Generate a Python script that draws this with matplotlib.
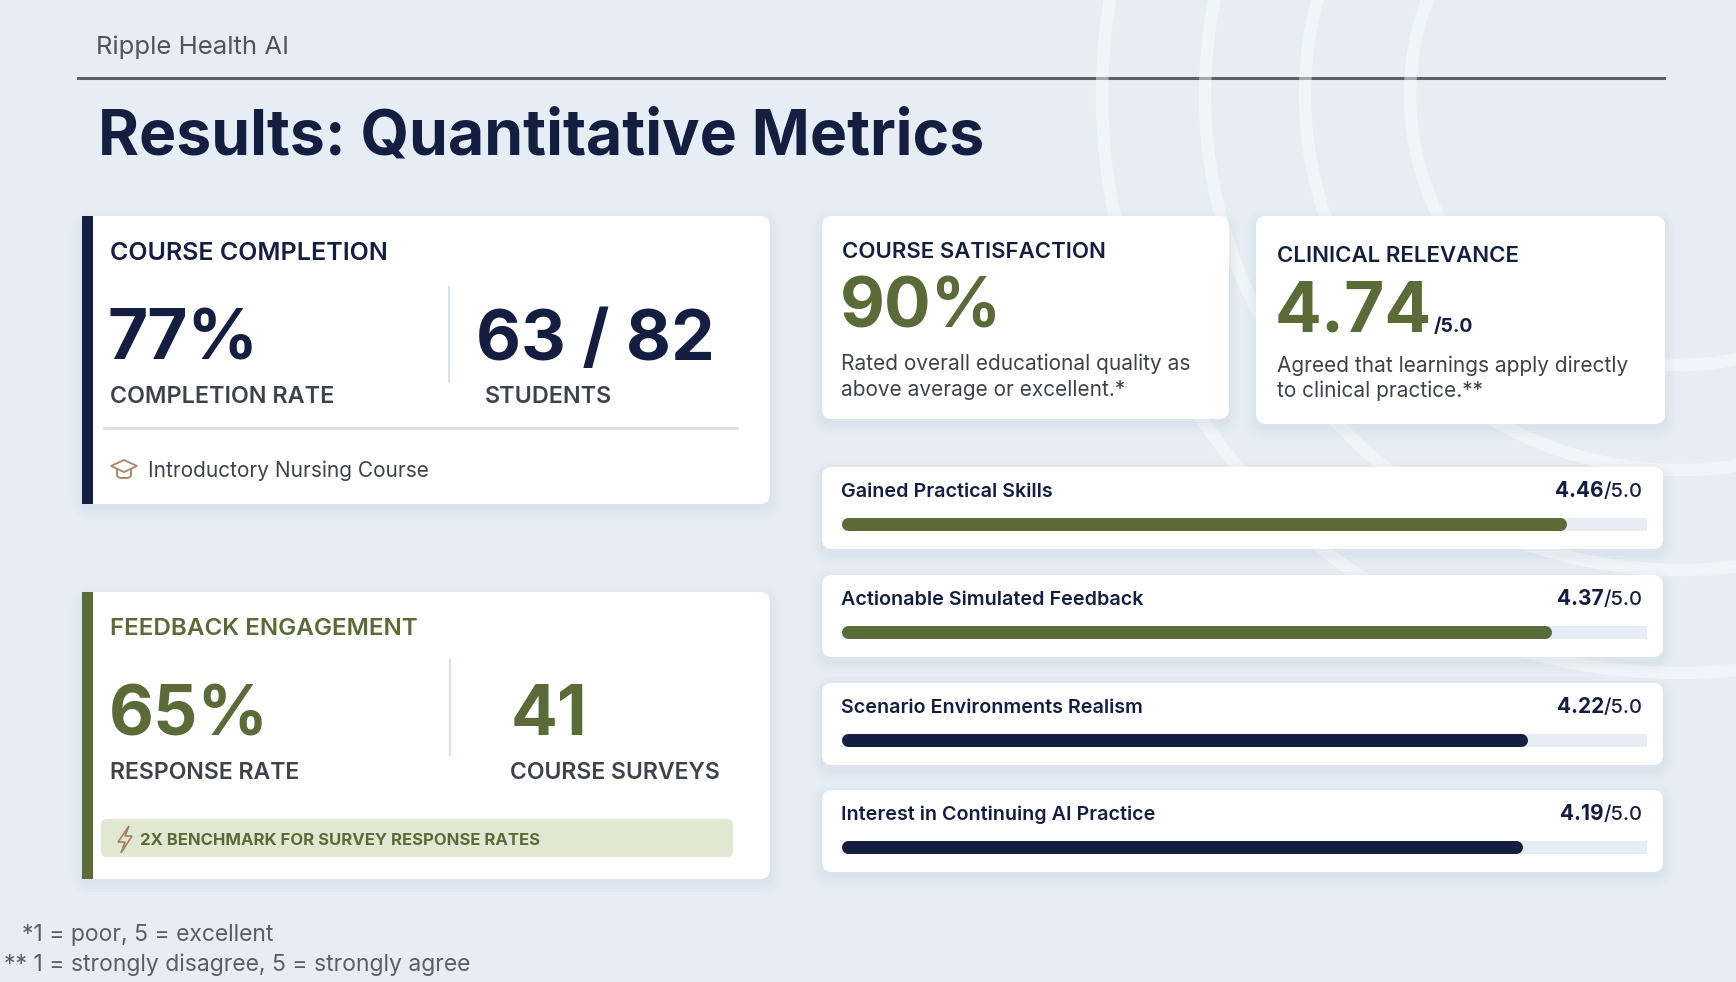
import matplotlib
matplotlib.use("Agg")
import matplotlib.pyplot as plt
from matplotlib.patches import FancyBboxPatch, Rectangle, Circle, Polygon

# --- données du tableau de bord ---
completion_rate = 77
students_done = 63
students_total = 82
response_rate = 65
course_surveys = 41
satisfaction_pct = 90
relevance_score = 4.74
scale_max = 5.0

bar_labels = ["Gained Practical Skills", "Actionable Simulated Feedback",
              "Scenario Environments Realism", "Interest in Continuing AI Practice"]
bar_values = [4.46, 4.37, 4.22, 4.19]

footnotes = ["*1 = poor, 5 = excellent", "** 1 = strongly disagree, 5 = strongly agree"]

# --- style ---
BG = "#e6edf5"
NAVY = "#131e41"
GREEN = "#5a6b38"
GRAY = "#3e434b"
TRACK = "#e6edf5"
FONT = "Inter"
bar_colors = [GREEN, GREEN, NAVY, NAVY]

W, H = 1736, 982
fig = plt.figure(figsize=(W / 100, H / 100), dpi=100)
fig.patch.set_facecolor(BG)
ax = fig.add_axes([0, 0, 1, 1])
ax.set_xlim(0, W)
ax.set_ylim(H, 0)
ax.axis("off")
renderer = fig.canvas.get_renderer()


def txt(x, y, s, size, color, weight="normal", ha="left", va="baseline", **kw):
    return ax.text(x, y, s, fontsize=size, color=color, fontweight=weight,
                   ha=ha, va=va, family=FONT, **kw)


def card(x, y, w, h, accent=None, z=2):
    # ombre douce
    for i, a in enumerate([0.035, 0.03, 0.025, 0.02]):
        g = 2 + i * 3
        ax.add_patch(FancyBboxPatch((x - g, y - g + 5), w + 2 * g, h + 2 * g,
                                    boxstyle=f"round,pad=0,rounding_size={10 + g}",
                                    fc="#8a9bb5", ec="none", alpha=a, zorder=z - 0.5))
    ax.add_patch(FancyBboxPatch((x, y), w, h, boxstyle="round,pad=0,rounding_size=10",
                                fc="white", ec="none", zorder=z))
    if accent:
        ax.add_patch(Rectangle((x, y), 11, h, fc=accent, ec="none", zorder=z + 0.1))


# en-tête
txt(96, 54, "Ripple Health AI", 18.5, "#50555d")
ax.plot([78, 1664], [78, 78], color="#5b626c", lw=2.2, zorder=1)
txt(98, 154, "Results: Quantitative Metrics", 45, NAVY, weight="bold")

# anneaux décoratifs
for r in [270, 375, 475, 578]:
    ax.add_patch(Circle((1680, 95), r, fc="none", ec="white", lw=9, alpha=0.45, zorder=1.2))

# carte : course completion
card(82, 216, 688, 288, accent=NAVY)
txt(110, 260, "COURSE COMPLETION", 18, NAVY, weight="semibold")
txt(108, 360, f"{completion_rate}%", 50, NAVY, weight="bold")
txt(476, 360, f"{students_done} / {students_total}", 50, NAVY, weight="bold")
ax.plot([449, 449], [287, 382], color="#d3dde8", lw=1.3, zorder=3)
txt(110, 403, "COMPLETION RATE", 16.8, GRAY, weight="semibold")
txt(485, 403, "STUDENTS", 16.8, GRAY, weight="semibold")
ax.plot([104, 737], [428, 428], color="#d5e1ec", lw=2, zorder=3)
# icône chapeau
ic = "#b0866d"
ax.add_patch(Polygon([(124, 460), (137, 466), (124, 472), (111, 466)], closed=True,
                     fc="none", ec=ic, lw=1.4, zorder=3))
ax.plot([117, 117, 120, 128, 131, 131], [469, 476, 478, 478, 476, 469], color=ic, lw=1.4, zorder=3)
txt(148, 477, "Introductory Nursing Course", 15, GRAY)

# carte : feedback engagement
card(82, 592, 688, 287, accent=GREEN)
txt(110, 635, "FEEDBACK ENGAGEMENT", 17.4, GREEN, weight="semibold")
txt(109, 735, f"{response_rate}%", 50, GREEN, weight="bold")
txt(511, 735, f"{course_surveys}", 50, GREEN, weight="bold")
ax.plot([450, 450], [660, 755], color="#d3dde8", lw=1.3, zorder=3)
txt(110, 779, "RESPONSE RATE", 16.6, GRAY, weight="semibold")
txt(510, 779, "COURSE SURVEYS", 16.6, GRAY, weight="semibold")
ax.add_patch(FancyBboxPatch((101, 819), 632, 38, boxstyle="round,pad=0,rounding_size=6",
                            fc="#e1e8d1", ec="none", zorder=3))
ax.add_patch(Polygon([(129, 826), (118, 842), (125, 842), (121, 853), (132, 836), (125, 836)],
                     closed=True, fc="none", ec="#a97d66", lw=1.2, zorder=4))
txt(140, 845, "2X BENCHMARK FOR SURVEY RESPONSE RATES", 12, GREEN, weight="bold", zorder=4)

# carte : course satisfaction
card(822, 216, 407, 203)
txt(842, 258, "COURSE SATISFACTION", 16, NAVY, weight="semibold")
txt(840, 328, f"{satisfaction_pct}%", 50, GREEN, weight="bold")
txt(841, 370, "Rated overall educational quality as", 15, GRAY)
txt(841, 396, "above average or excellent.*", 15, GRAY)

# carte : clinical relevance
card(1256, 216, 409, 208)
txt(1277, 262, "CLINICAL RELEVANCE", 16, NAVY, weight="semibold")
t = txt(1275, 332, f"{relevance_score:.2f}", 50, GREEN, weight="bold")
bb = t.get_window_extent(renderer=renderer)
txt(bb.x1 + 1, 332, f"/{scale_max:.1f}", 14, NAVY, weight="bold")
txt(1277, 372, "Agreed that learnings apply directly", 15, GRAY)
txt(1277, 397, "to clinical practice.**", 15, GRAY)

# cartes à barres
x0_track, x1_track = 841, 1647
bax = fig.add_axes([x0_track / W, 0, (x1_track - x0_track) / W, 1])
bax.set_xlim(0, scale_max)
bax.set_ylim(H, 0)
bax.axis("off")
bax.patch.set_alpha(0)

card_tops = [467, 575, 683, 790]
bar_lw = 13 * 0.72
half = 6.5 / (x1_track - x0_track) * scale_max
for top, lab, val, col in zip(card_tops, bar_labels, bar_values, bar_colors):
    card(822, top, 841, 82)
    txt(841, top + 30, lab, 14.2, NAVY, weight="semibold")
    s = txt(1643, top + 30, f"/{scale_max:.1f}", 14.5, NAVY, weight="medium", ha="right")
    sb = s.get_window_extent(renderer=renderer)
    txt(sb.x0, top + 30, f"{val:.2f}", 15, NAVY, weight="bold", ha="right")
    yb = top + 57
    bax.hlines(yb, 0, scale_max, colors=TRACK, lw=bar_lw, capstyle="butt", zorder=3)
    bax.hlines(yb, half, val, colors=col, lw=bar_lw, capstyle="round", zorder=4)

# notes
txt(22, 941, footnotes[0], 16.5, "#5a5f67")
txt(4, 971, footnotes[1], 16.5, "#5a5f67")

fig.savefig("out.png", dpi=100, facecolor=BG)
